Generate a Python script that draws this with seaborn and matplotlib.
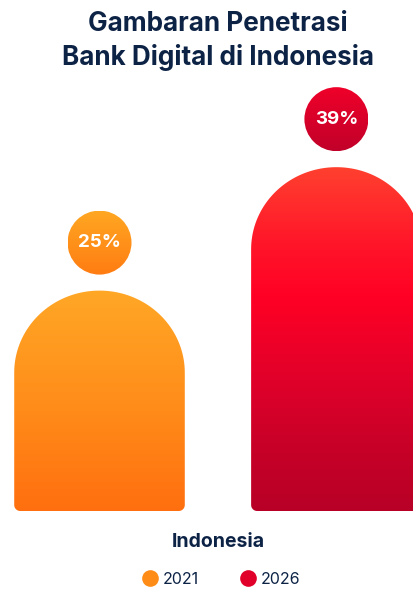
import numpy as np
import pandas as pd
import matplotlib
matplotlib.use("Agg")
import matplotlib.pyplot as plt
import seaborn as sns
from matplotlib.path import Path
from matplotlib.patches import PathPatch, Ellipse
from matplotlib.colors import LinearSegmentedColormap
from matplotlib.lines import Line2D

# -----------------------------
# Data
# -----------------------------
countries = ["Indonesia", "Indonesia"]
years = ["2021", "2026"]
values = [25, 39]

TITLE = "Gambaran Penetrasi\nBank Digital di Indonesia"
NAVY = "#0d2346"
LEGEND_COLORS = ["#ff8c17", "#e0002a"]

# gradients, bottom -> top
BAR_GRADIENTS = [
    [(0.0, "#ff6f0f"), (0.5, "#ff8e1a"), (1.0, "#ffa726")],
    [(0.0, "#b80026"), (0.18, "#c70028"), (0.38, "#e0002a"),
     (0.62, "#ff0025"), (0.78, "#ff1629"), (1.0, "#ff402f")],
]
CIRCLE_GRADIENTS = [
    [(0.0, "#ff7c12"), (1.0, "#ffa722")],
    [(0.0, "#c10029"), (1.0, "#f0002a")],
]

df = pd.DataFrame({"country": countries, "year": years, "value": values})

# -----------------------------
# Figure
# -----------------------------
sns.set_theme(style="white")
plt.rcParams["font.family"] = ["Inter", "DejaVu Sans"]

W, H = 414, 590
fig = plt.figure(figsize=(W / 100, H / 100), dpi=100)
ax = fig.add_axes([0, 79 / H, 1, 432 / H])

sns.barplot(data=df, x="country", y="value", hue="year",
            palette=LEGEND_COLORS, width=0.8, gap=0.28, legend=False, ax=ax)

XMIN, XMAX = -0.368, 0.331
YMAX = 49.0
ax.set_xlim(XMIN, XMAX)
ax.set_ylim(0, YMAX)

px_x = (XMAX - XMIN) / W          # data units per pixel, x
px_y = YMAX / 432                 # data units per pixel, y


def arch_path(x0, w, h):
    rx = w / 2
    ry = 82 * px_y
    cx = x0 + rx
    r_bx, r_by = 6 * px_x, 6 * px_y
    pts = []
    # bottom-left corner
    for t in np.linspace(np.pi, 1.5 * np.pi, 10):
        pts.append((x0 + r_bx + r_bx * np.cos(t), r_by + r_by * np.sin(t)))
    # bottom-right corner
    for t in np.linspace(1.5 * np.pi, 2 * np.pi, 10):
        pts.append((x0 + w - r_bx + r_bx * np.cos(t), r_by + r_by * np.sin(t)))
    # top arch
    for t in np.linspace(0, np.pi, 80):
        pts.append((cx + rx * np.cos(t), h - ry + ry * np.sin(t)))
    pts.append(pts[0])
    codes = [Path.MOVETO] + [Path.LINETO] * (len(pts) - 2) + [Path.CLOSEPOLY]
    return Path(pts, codes)


grad = np.linspace(0, 1, 256).reshape(-1, 1)
CIRCLE_D = 64          # px
OFFSET = 48            # px between bar top and circle centre

for i, container in enumerate(ax.containers):
    bar = container[0]
    x0, w, h = bar.get_x(), bar.get_width(), bar.get_height()
    bar.set_visible(False)

    # gradient arch bar
    clip = PathPatch(arch_path(x0, w, h), transform=ax.transData,
                     facecolor="none", edgecolor="none")
    ax.add_patch(clip)
    cmap = LinearSegmentedColormap.from_list(f"bar{i}", BAR_GRADIENTS[i])
    im = ax.imshow(grad, cmap=cmap, origin="lower", aspect="auto",
                   extent=(x0, x0 + w, 0, h), zorder=2)
    im.set_clip_path(clip)

    # value bubble
    cx = x0 + w / 2
    cy = h + OFFSET * px_y
    ew, eh = CIRCLE_D * px_x, CIRCLE_D * px_y
    circ = Ellipse((cx, cy), ew, eh, transform=ax.transData,
                   facecolor="none", edgecolor="none")
    ax.add_patch(circ)
    ccmap = LinearSegmentedColormap.from_list(f"circ{i}", CIRCLE_GRADIENTS[i])
    cim = ax.imshow(grad, cmap=ccmap, origin="lower", aspect="auto",
                    extent=(cx - ew / 2, cx + ew / 2, cy - eh / 2, cy + eh / 2),
                    zorder=3)
    cim.set_clip_path(circ)
    ax.text(cx, cy, f"{values[i]}%", ha="center", va="center",
            color="white", fontsize=13.5, fontweight="bold", zorder=4)

ax.set_xlim(XMIN, XMAX)
ax.set_ylim(0, YMAX)

sns.despine(ax=ax, left=True, bottom=True)
ax.set_yticks([])
ax.set_xlabel("")
ax.set_ylabel("")
ax.tick_params(axis="x", length=0, pad=16)
for lbl in ax.get_xticklabels():
    lbl.set_fontsize(14)
    lbl.set_fontweight("bold")
    lbl.set_color(NAVY)

# title
fig.text(0.527, 1 - 41 / H, TITLE, ha="center", va="center",
         fontsize=18.8, fontweight="bold", color=NAVY, linespacing=1.3)

# legend
handles = [Line2D([], [], marker="o", linestyle="", markersize=12,
                  markerfacecolor=c, markeredgecolor="none", label=y)
           for c, y in zip(LEGEND_COLORS, years)]
fig.legend(handles=handles, loc="center", bbox_to_anchor=(0.534, 11 / H),
           ncol=2, frameon=False, fontsize=11.5, handletextpad=0.3,
           columnspacing=2.6, labelcolor=NAVY, handlelength=1.0)

fig.savefig("out.png", dpi=100)
